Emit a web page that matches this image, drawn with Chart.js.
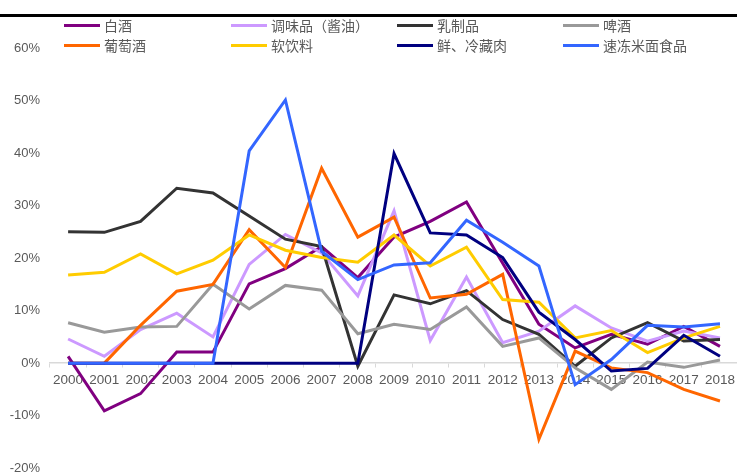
<!DOCTYPE html>
<html>
<head>
<meta charset="utf-8">
<script src="https://cdn.jsdelivr.net/npm/chart.js@4.4.0/dist/chart.umd.min.js"></script>
<style>
    body { margin: 0; background: #fff; }
    #wrap { position: relative; width: 737px; height: 472px; overflow: hidden; }
    #topLine { position: absolute; left: 0; top: 14px; width: 737px; height: 3px; background: #000; }
    #legend { position: absolute; left: 0; top: 0; width: 737px; height: 60px; }
    .item { position: absolute; height: 20px; display: flex; align-items: center;
            font-family: "Noto Sans CJK SC", sans-serif; font-size: 14px; color: #595959; }
    .item span { display: inline-block; width: 36px; height: 3px; margin-right: 4px; }
</style>
</head>
<body>
<div id="wrap">
    <canvas id="graphic-growth" width="740" height="486"></canvas>
    <div id="topLine"></div>
    <div id="legend"></div>
</div>
<script>
const years = ['2000', '2001', '2002', '2003', '2004', '2005', '2006', '2007', '2008', '2009',
    '2010', '2011', '2012', '2013', '2014', '2015', '2016', '2017', '2018'];

const seriesNames = ['白酒', '调味品（酱油）', '乳制品', '啤酒', '葡萄酒', '软饮料', '鲜、冷藏肉', '速冻米面食品'];
const seriesColors = ['#800080', '#CC99FF', '#333333', '#999999', '#FF6600', '#FFCC00', '#000080', '#3366FF'];

// 增速 (%)
const baijiu = [1.3, -9.1, -5.8, 2.1, 2.1, 15.1, 18.0, 22.2, 16.3, 24.0, 27.0, 30.7, 19.0, 7.4, 2.9, 5.5, 3.6, 7.0, 3.2];
const tiaowei = [4.6, 1.3, 6.4, 9.5, 5.0, 18.8, 24.5, 21.0, 12.8, 29.0, 4.3, 16.4, 3.9, 6.1, 10.9, 6.7, 4.2, 6.1, 4.8];
const ruzhipin = [25.0, 24.9, 27.0, 33.3, 32.4, 28.0, 23.6, 22.2, -0.6, 13.0, 11.3, 13.8, 8.3, 5.5, -0.6, 4.8, 7.7, 4.2, 4.5];
const pijiu = [7.7, 5.9, 6.9, 7.0, 15.0, 10.3, 14.8, 13.9, 5.6, 7.4, 6.4, 10.7, 3.2, 4.8, -0.9, -5.0, 0.2, -0.8, 0.6];
const putaojiu = [0, 0, 7.2, 13.7, 15.0, 25.4, 18.2, 37.1, 24.0, 27.8, 12.4, 13.1, 16.9, -14.5, 2.3, -0.9, -1.8, -5.0, -7.2];
const ruanyinliao = [16.8, 17.3, 20.8, 17.0, 19.6, 24.4, 21.5, 20.1, 19.2, 24.4, 18.5, 22.1, 12.1, 11.6, 4.8, 6.2, 2.0, 4.8, 7.0];
const lengcangrou = [0, 0, 0, 0, 0, 0, 0, 0, 0, 39.9, 24.8, 24.4, 20.1, 9.7, 4.5, -1.5, -1.0, 5.3, 1.3];
const sudong = [0, 0, 0, 0, 0, 40.4, 50.1, 21.3, 15.9, 18.7, 19.1, 27.2, 23.0, 18.5, -4.1, 0.7, 7.2, 6.9, 7.5];

const yTickMin = -20;
const yTickMax = 60;
const yTickStep = 10;

const allSeries = [baijiu, tiaowei, ruzhipin, pijiu, putaojiu, ruanyinliao, lengcangrou, sudong];

// legend em 2 linhas x 4 colunas
const legendCols = [64, 231, 397, 563];
const legendRows = [15, 35];
const legendBox = document.getElementById('legend');
seriesNames.forEach(function (name, i) {
    const item = document.createElement('div');
    item.className = 'item';
    item.style.left = legendCols[i % 4] + 'px';
    item.style.top = legendRows[Math.floor(i / 4)] + 'px';
    item.innerHTML = '<span style="background:' + seriesColors[i] + '"></span>' + name;
    legendBox.appendChild(item);
});

const dataGraphicGrowth = document.getElementById('graphic-growth');

new Chart(dataGraphicGrowth, {
    type: 'line',
    data: {
        labels: years,
        datasets: allSeries.map(function (values, i) {
            return {
                label: seriesNames[i],
                data: values,
                borderColor: seriesColors[i],
                backgroundColor: seriesColors[i],
                borderWidth: 3,
                pointRadius: 0,
                tension: 0,
                order: allSeries.length - i
            };
        })
    },
    options: {
        responsive: false,
        maintainAspectRatio: false,
        animation: false,
        layout: {
            padding: { top: 48, bottom: 7, left: 0, right: 0 }
        },
        scales: {
            x: {
                position: { y: 0 },
                offset: true,
                grid: {
                    offset: true,
                    drawOnChartArea: false,
                    drawTicks: true,
                    tickLength: 4,
                    color: '#d9d9d9'
                },
                border: { color: '#d9d9d9', width: 1.5 },
                ticks: {
                    color: '#595959',
                    padding: 5,
                    maxRotation: 0,
                    autoSkip: false,
                    font: { family: 'Liberation Sans', size: 13.5 }
                }
            },
            y: {
                min: yTickMin,
                max: yTickMax,
                afterFit: function (scale) {
                    scale.width = 50;
                },
                grid: { display: false, drawTicks: false },
                border: { display: false },
                ticks: {
                    stepSize: yTickStep,
                    color: '#595959',
                    padding: 10,
                    font: { family: 'Liberation Sans', size: 13 },
                    callback: function (value) {
                        return value + '%';
                    }
                }
            }
        },
        plugins: {
            legend: { display: false },
            tooltip: { enabled: false }
        }
    }
});
</script>
</body>
</html>
